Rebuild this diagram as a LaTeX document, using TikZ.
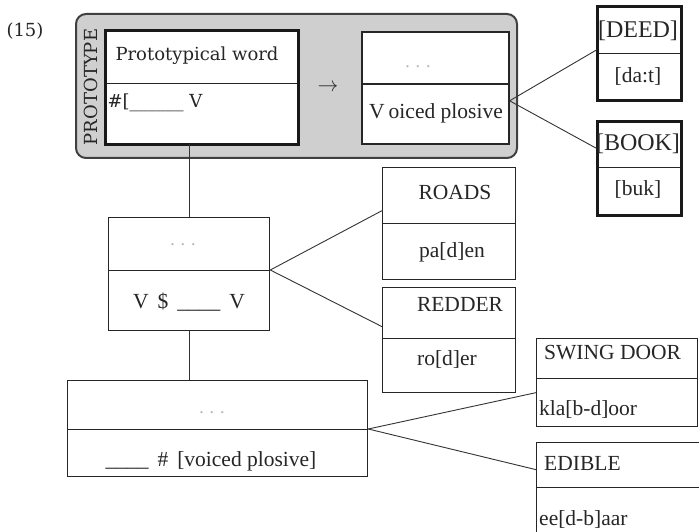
\documentclass[tikz,border=0pt]{standalone}
\usepackage{fontspec}
\setmainfont{Liberation Serif}
\newfontfamily\bookfont{DejaVu Serif}

\begin{document}
\begin{tikzpicture}[x=1pt,y=-1pt,
  ink/.style={draw=black!85},
  cell/.style={ink, line width=1.3pt, anchor=north west, inner sep=0pt, fill=white},
  thickbox/.style={draw=black!90, line width=3pt},
  link/.style={draw=black!80, line width=0.9pt},
  txt/.style={inner sep=0pt},
  tm/.style={txt, text height=16pt, text depth=2pt, font=\fontsize{21.5}{21.5}\selectfont, text=black!85},
  tmbig/.style={txt, text height=18pt, text depth=2pt, font=\fontsize{24}{24}\selectfont, text=black!85},
  bk/.style={txt, text height=15pt, text depth=2pt, font=\bookfont\fontsize{18}{18}\selectfont, text=black!85},
  dots/.style={txt, text height=4pt, text depth=0pt, font=\fontsize{18}{18}\selectfont, text=black!30}
]
\clip (0,0) rectangle (699,532);
\fill[white] (0,0) rectangle (699,532);

% example number
\node[bk] (num) at (25,30) {(15)};

% shaded prototype frame
\path[fill=black!19, draw=black!75, line width=2pt, rounded corners=10pt]
  (76,14) rectangle (517,158);
\node[bk, rotate=90] (protolabel) at (91,87) {PROTOTYPE};

% prototypical word
\node[cell, minimum width=192pt, minimum height=52pt] (protoT) at (105,31) {};
\node[cell, minimum width=192pt, minimum height=60pt] (protoB) at (105,83) {};
\draw[thickbox] (protoT.north west) rectangle (protoB.south east);
\node[bk] (protoTxt) at (197,54) {Prototypical word};
\node[bk] (protoEnv) at (155,101) {\#[\_\_\_\_\_\_ V};

\node[txt, text height=14pt, text depth=2pt, font=\fontsize{22}{22}\selectfont, text=black!85] (arrow) at (328,86) {$\rightarrow$};

% voiced plosive
\node[cell, minimum width=147pt, minimum height=52pt, line width=1.6pt] (vT) at (361,31) {};
\node[cell, minimum width=147pt, minimum height=60pt, line width=1.6pt] (vB) at (361,83) {};
\node[dots] (vDots) at (418,66) {. . .};
\node[tm] (vTxt) at (436,112) {V\kern4pt oiced plosive};

% DEED
\node[cell, minimum width=83pt, minimum height=46pt] (deedT) at (597,7) {};
\node[cell, minimum width=83pt, minimum height=46pt] (deedB) at (597,53) {};
\draw[thickbox] (deedT.north west) rectangle (deedB.south east);
\node[tmbig] (deedTxt) at (638,30) {[DEED]};
\node[tm] (deedIpa) at (638,76) {[da:t]};

% BOOK
\node[cell, minimum width=83pt, minimum height=45pt] (bookT) at (597,122) {};
\node[cell, minimum width=83pt, minimum height=47pt] (bookB) at (597,167) {};
\draw[thickbox] (bookT.north west) rectangle (bookB.south east);
\node[tmbig] (bookTxt) at (638,143) {[BOOK]};
\node[tm] (bookIpa) at (638,189) {[buk]};

% intervocalic node
\node[cell, minimum width=161pt, minimum height=53pt] (midT) at (108,217) {};
\node[cell, minimum width=161pt, minimum height=60pt] (midB) at (108,270) {};
\node[dots] (midDots) at (183,243) {. . .};
\node[tm] (midTxt) at (189,301) {V\, \$\, \_\_\_\_\, V};

% ROADS
\node[cell, minimum width=133pt, minimum height=56pt] (roadsT) at (382,167) {};
\node[cell, minimum width=133pt, minimum height=56pt] (roadsB) at (382,223) {};
\node[tm] (roadsTxt) at (455,192) {ROADS};
\node[tm] (roadsEx) at (452,250) {pa[d]en};

% REDDER
\node[cell, minimum width=133pt, minimum height=51pt] (redderT) at (382,287) {};
\node[cell, minimum width=133pt, minimum height=54pt] (redderB) at (382,338) {};
\node[tm] (redderTxt) at (460,304) {REDDER};
\node[tm] (redderEx) at (447,358) {ro[d]er};

% word-final node
\node[cell, minimum width=300pt, minimum height=49pt] (botT) at (67,380) {};
\node[cell, minimum width=300pt, minimum height=47pt] (botB) at (67,429) {};
\node[dots] (botDots) at (212,411) {. . .};
\node[tm] (botTxt) at (211,459) {\_\_\_\_\, \#\, [voiced plosive]};

% SWING DOOR
\node[cell, minimum width=161pt, minimum height=40pt] (swingT) at (536,338) {};
\node[cell, minimum width=161pt, minimum height=48pt] (swingB) at (536,378) {};
\node[tm, anchor=west] (swingTxt) at (544,352) {SWING DOOR};
\node[tm, anchor=west] (swingEx) at (539,408) {kla[b-d]oor};

% EDIBLE
\node[cell, minimum width=180pt, minimum height=45pt] (edibleT) at (536,442) {};
\node[cell, minimum width=180pt, minimum height=70pt] (edibleB) at (536,487) {};
\node[tm, anchor=west] (edibleTxt) at (544,463) {EDIBLE};
\node[tm, anchor=west] (edibleEx) at (539,518) {ee[d-b]aar};

% hierarchy links
\draw[link] (midT.north) -- (midT.north |- protoB.south);
\draw[link] (midB.south) -- (midB.south |- botT.north);

% instance links
\draw[link] ([yshift=13pt]vB.east) -- ([yshift=-19pt]deedT.west);
\draw[link] ([yshift=13pt]vB.east) -- ([yshift=-3.5pt]bookT.west);
\draw[link] (midB.north east) -- ([yshift=-15pt]roadsT.west);
\draw[link] (midB.north east) -- ([yshift=-13.5pt]redderT.west);
\draw[link] (botB.north east) -- ([yshift=10pt]swingB.west);
\draw[link] (botB.north east) -- ([yshift=-4.5pt]edibleT.west);
\end{tikzpicture}
\end{document}
